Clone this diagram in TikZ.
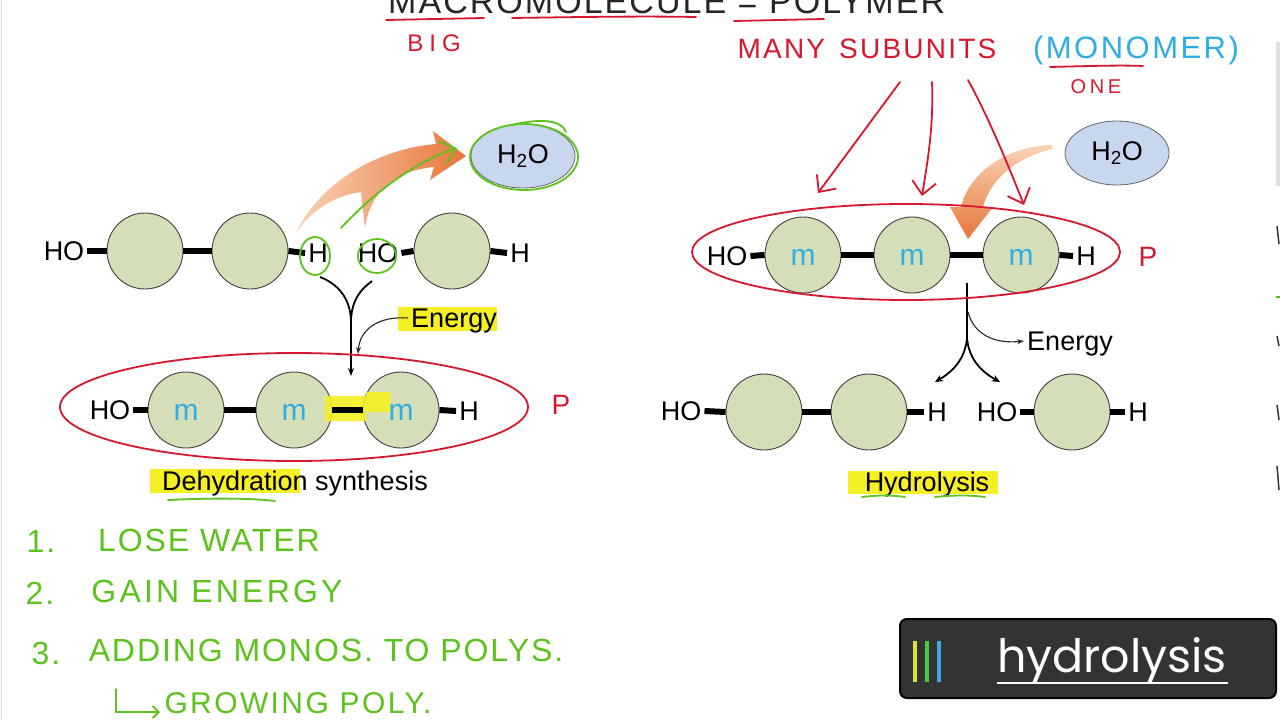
\documentclass[tikz,border=0pt]{standalone}
\usepackage{fontspec}
\setmainfont{Liberation Sans}
\newfontfamily\hand[LetterSpace=6]{Liberation Sans}
\newfontfamily\badgefont{Poppins}
\usetikzlibrary{arrows.meta,shapes.geometric}
\definecolor{monofill}{HTML}{D4DEB8}
\definecolor{waterfill}{HTML}{C8D6EE}
\definecolor{penred}{HTML}{D7172F}
\definecolor{pengreen}{HTML}{5CC21C}
\definecolor{penblue}{HTML}{2FAEE3}
\definecolor{hilite}{HTML}{F5F023}
\definecolor{peach}{HTML}{F9D3B6}
\definecolor{orangeA}{HTML}{E8763A}
\definecolor{badgebg}{HTML}{333333}
\definecolor{barY}{HTML}{DDE52B}
\definecolor{barG}{HTML}{3FCF3F}
\definecolor{barB}{HTML}{3AAEE0}
\begin{document}
\begin{tikzpicture}[x=1pt,y=-1pt,
  mono/.style={circle, draw=black!75, line width=0.9pt, fill=monofill, minimum size=76pt, inner sep=0pt},
  water/.style={ellipse, draw=black!60, line width=0.8pt, fill=waterfill, minimum width=104pt, minimum height=64pt, inner sep=0pt, font=\fontsize{27}{30}\selectfont},
  lbl/.style={font=\fontsize{27}{30}\selectfont, inner sep=3pt, text height=19.4pt, text depth=0pt},
  bond/.style={line width=6pt},
  rxnline/.style={line width=1.8pt},
  thinarrow/.style={line width=1.1pt, draw=black!85, -{Stealth[length=7pt,width=5pt]}},
  penr/.style={draw=penred, line width=1.8pt, line cap=round},
  peng/.style={draw=pengreen, line width=1.8pt, line cap=round},
  redarrow/.style={penr, -{Straight Barb[length=13pt,width=24pt,line width=1.8pt]}},
  redhand/.style={text=penred, inner sep=0pt},
  greenhand/.style={text=pengreen, inner sep=0pt},
  mlet/.style={text=penblue, font=\fontsize{30}{30}\selectfont, inner sep=0pt},
  hl/.style={fill=hilite}
]
\clip (0,0) rectangle (1280,720);
\fill[white] (0,0) rectangle (1280,720);
\draw[black!15, line width=1pt] (1,0) -- (1,720);

% ---------------- top handwriting ----------------
\node[anchor=base west, inner sep=0pt, text=black!85, font=\hand\fontsize{34}{36}\selectfont] (title) at (388,13) {MACROMOLECULE = POLYMER};
\draw[penr] (386,20) -- (484,18);
\draw[penr] (512,18) .. controls (580,17) and (640,16) .. (696,17);
\draw[penr] (734,21) -- (824,19);
\node[redhand, font=\hand\fontsize{24}{26}\selectfont\addfontfeature{LetterSpace=25}] (big) at (434,43) {BIG};
\node[redhand, font=\hand\fontsize{28}{30}\selectfont\addfontfeature{LetterSpace=8}] (many) at (867,49) {MANY\hspace{14pt}SUBUNITS};
\node[text=penblue, inner sep=0pt, font=\hand\fontsize{31}{33}\selectfont\addfontfeature{LetterSpace=8}] (monomer) at (1136,50) {(MONOMER)};
\draw[penr] (1050,67) .. controls (1090,66) and (1120,65) .. (1143,66);
\node[redhand, font=\hand\fontsize{20}{22}\selectfont\addfontfeature{LetterSpace=18}] (one) at (1096,87) {ONE};

% ---------------- highlights ----------------
\fill[hilite] (398,307) rectangle (497,331);
\fill[hilite] (150,469) rectangle (300,493);
\fill[hilite] (848,471) rectangle (998,494);

% ---------------- orange arrows ----------------
\shade[left color=peach, right color=orangeA]
  (296,233) .. controls (318,185) and (375,149) .. (436,144) -- (433,131) -- (466,156) -- (430,180) -- (434,167)
  .. controls (398,170) and (370,190) .. (365,228) -- (361,192) .. controls (332,196) and (310,212) .. (296,233) -- cycle;
\shade[top color=peach, bottom color=orangeA]
  (1052,145) .. controls (1010,146) and (970,170) .. (961,207) -- (950,207) -- (968,239) -- (993,207) -- (983,207)
  .. controls (990,180) and (1015,158) .. (1052,149) -- cycle;

% ---------------- left: dehydration synthesis ----------------
\node[water] (w1) at (523,156) {H\textsubscript{2}O};
\node[lbl] (hoL1) at (64,251) {HO};
\node[mono] (cL1) at (145,251) {};
\node[mono] (cL2) at (250,251) {};
\node[lbl] (hL1) at (318,253) {H};
\node[lbl] (hoL2) at (378,253) {HO};
\node[mono] (cL3) at (452,251) {};
\node[lbl] (hL2) at (520,253) {H};
\draw[bond] (hoL1.east) -- (cL1.west);
\draw[bond] (cL1.east) -- (cL2.west);
\draw[bond] (cL2.east) -- (hL1.west);
\draw[bond] (hoL2.east) -- (cL3.west);
\draw[bond] (cL3.east) -- (hL2.west);

\coordinate (tL1) at (320,277);
\coordinate (tL2) at (372,281);
\coordinate (jL) at (351,320);
\coordinate (aL) at (351,376);
\draw[rxnline] (tL1) .. controls (338,284) and (350,298) .. (jL);
\draw[rxnline] (tL2) .. controls (360,290) and (352,300) .. (jL);
\draw[rxnline, -{Stealth[length=8pt,width=6pt]}] (jL) -- (aL);
\node[lbl] (eL) at (454,318) {Energy};
\coordinate (eLt) at (358,354);
\draw[thinarrow] (eL.west) .. controls (380,316) and (360,328) .. (eLt);

\node[lbl] (hoL3) at (110,410) {HO};
\node[mono] (cB1) at (186,410) {};
\node[mono] (cB2) at (294,410) {};
\node[mono] (cB3) at (401,410) {};
\node[lbl] (hL3) at (469,411) {H};
\fill[hilite, opacity=0.9] (325,396) rectangle (366,421) (366,392) rectangle (390,412);
\draw[bond] (hoL3.east) -- (cB1.west);
\draw[bond] (cB1.east) -- (cB2.west);
\draw[bond] (cB2.east) -- (cB3.west);
\draw[bond] (cB3.east) -- (hL3.west);
\node[lbl] (dehyd) at (295,481) {Dehydration synthesis};

% ---------------- right: hydrolysis ----------------
\node[water] (w2) at (1117,153) {H\textsubscript{2}O};
\node[lbl] (hoR1) at (727,256) {HO};
\node[mono] (cR1) at (803,255) {};
\node[mono] (cR2) at (912,255) {};
\node[mono] (cR3) at (1021,255) {};
\node[lbl] (hR1) at (1086,256) {H};
\draw[bond] (hoR1.east) -- (cR1.west);
\draw[bond] (cR1.east) -- (cR2.west);
\draw[bond] (cR2.east) -- (cR3.west);
\draw[bond] (cR3.east) -- (hR1.west);

\coordinate (tR) at (967,283);
\coordinate (jR) at (967,338);
\coordinate (aR1) at (935,382);
\coordinate (aR2) at (1000,382);
\draw[rxnline] (tR) -- (jR);
\draw[rxnline, -{Stealth[length=8pt,width=7pt]}] (jR) .. controls (965,360) and (952,372) .. (aR1);
\draw[rxnline, -{Stealth[length=8pt,width=7pt]}] (jR) .. controls (969,360) and (982,372) .. (aR2);
\node[lbl] (eR) at (1070,341) {Energy};
\coordinate (eRs) at (968,312);
\draw[thinarrow] (eRs) .. controls (974,335) and (995,344) .. (eR.west);

\node[lbl] (hoR2) at (681,411) {HO};
\node[mono] (cR4) at (764,412) {};
\node[mono] (cR5) at (869,412) {};
\node[lbl] (hR2) at (937,412) {H};
\node[lbl] (hoR3) at (997,412) {HO};
\node[mono] (cR6) at (1072,412) {};
\node[lbl] (hR3) at (1138,412) {H};
\draw[bond] (hoR2.east) -- (cR4.west);
\draw[bond] (cR4.east) -- (cR5.west);
\draw[bond] (cR5.east) -- (hR2.west);
\draw[bond] (hoR3.east) -- (cR6.west);
\draw[bond] (cR6.east) -- (hR3.west);
\node[lbl] (hydro) at (927,482) {Hydrolysis};

% ---------------- green annotations ----------------
\draw[peng] (315,256) ellipse [x radius=15pt, y radius=19pt];
\draw[peng] (377,256) ellipse [x radius=19pt, y radius=17pt];
\draw[peng] (524,157) ellipse [x radius=54pt, y radius=33pt];
\draw[peng] (512,125) .. controls (540,118) and (562,120) .. (566,132);
\coordinate (gS) at (341,228);
\coordinate (gE) at (457,148);
\draw[peng, -{Straight Barb[length=14pt,width=24pt,line width=1.8pt]}] (gS) .. controls (378,188) and (420,160) .. (gE);
\draw[peng] (168,500) .. controls (210,498) and (250,498) .. (275,501);
\draw[peng] (862,497) .. controls (878,495) and (892,495) .. (905,497);
\draw[peng] (935,497) .. controls (955,495) and (970,495) .. (985,497);

% ---------------- red annotations ----------------
\draw[penr] (294,407) ellipse [x radius=234pt, y radius=54pt];
\draw[penr] (906,252) ellipse [x radius=214pt, y radius=48pt];
\node[redhand, font=\hand\fontsize{28}{30}\selectfont] (pL) at (561,405) {P};
\node[redhand, font=\hand\fontsize{28}{30}\selectfont] (pR) at (1148,257) {P};
\coordinate (r1s) at (900,82);
\coordinate (r2s) at (932,82);
\coordinate (r3s) at (968,80);
\coordinate (r1e) at (818,193);
\coordinate (r2e) at (922,196);
\coordinate (r3e) at (1024,205);
\draw[redarrow] (r1s) -- (r1e);
\draw[redarrow] (r2s) .. controls (934,130) and (926,170) .. (r2e);
\draw[redarrow] (r3s) .. controls (990,120) and (1010,170) .. (r3e);

% ---------------- blue m's ----------------
\foreach \c in {cB1,cB2,cB3,cR1,cR2,cR3}{\node[mlet] at ([yshift=-2pt]\c.center) {m};}

% ---------------- green list ----------------
\node[greenhand, font=\hand\fontsize{32}{34}\selectfont] (n1) at (41,541) {1.};
\node[greenhand, font=\hand\fontsize{32}{34}\selectfont] (l1) at (209,540) {LOSE WATER};
\node[greenhand, font=\hand\fontsize{32}{34}\selectfont] (n2) at (40,593) {2.};
\node[greenhand, font=\hand\fontsize{32}{34}\selectfont\addfontfeature{LetterSpace=10}] (l2) at (217,591) {GAIN ENERGY};
\node[greenhand, font=\hand\fontsize{32}{34}\selectfont] (n3) at (46,653) {3.};
\node[greenhand, font=\hand\fontsize{32}{34}\selectfont] (l3) at (326,650) {ADDING MONOS. TO POLYS.};
\coordinate (ha) at (116,689);
\coordinate (hb) at (116,712);
\coordinate (hc) at (160,712);
\draw[peng, -{Straight Barb[length=6pt,width=12pt,line width=1.8pt]}] (ha) -- (hb) -- (hc);
\node[greenhand, font=\hand\fontsize{30}{32}\selectfont\addfontfeature{LetterSpace=8}] (l4) at (298,703) {GROWING POLY.};

% ---------------- badge ----------------
\draw[line width=2pt, draw=black, fill=badgebg, rounded corners=7pt] (900,619) rectangle (1276,698);
\draw[barY, line width=4pt] (915,641) -- (915,682);
\draw[barG, line width=4pt] (927,641) -- (927,682);
\draw[barB, line width=4pt] (939,641) -- (939,682);
\node[anchor=base, text=white, inner sep=0pt, font=\badgefont\fontsize{46}{48}\selectfont] (badge) at (1112,672) {hydrolysis};
\draw[white, line width=2pt] (997,683) -- (1228,683);

% ---------------- right edge fragments ----------------
\fill[black!12] (1276,42) rectangle (1280,186);
\draw[black!80, line width=1.5pt] (1277,226) -- (1279,244);
\draw[pengreen, line width=1.5pt] (1276,297) -- (1280,297);
\draw[black!80, line width=1.5pt] (1277,336) -- (1279,346);
\draw[black!80, line width=1.5pt] (1277,405) -- (1279,420);
\draw[black!80, line width=1.5pt] (1277,466) -- (1279,490);
\end{tikzpicture}
\end{document}
